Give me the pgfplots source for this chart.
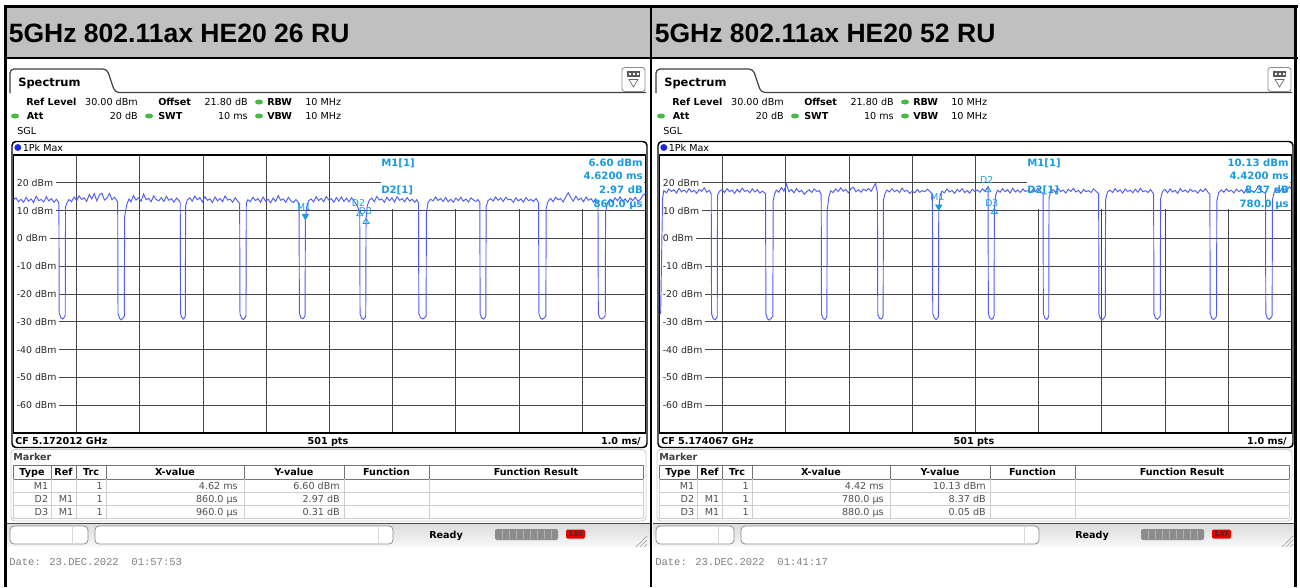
\documentclass[border=0pt]{standalone}
\usepackage{pgfplots}
\pgfplotsset{compat=1.18}
\usepackage{fontspec}
\setmainfont{DejaVu Sans}
\newfontfamily\titlefont{Liberation Sans}
\newfontfamily\datefont{Liberation Mono}
\definecolor{hdrgray}{RGB}{192,192,192}
\definecolor{trc}{RGB}{80,92,250}
\definecolor{mk}{RGB}{25,155,225}
\definecolor{grn}{RGB}{70,185,70}
\definecolor{gridc}{RGB}{70,70,70}
\definecolor{tabl}{RGB}{205,205,205}
\definecolor{txg}{RGB}{80,80,80}
\definecolor{dotblue}{RGB}{30,40,225}

\newcommand{\fs}{\fontsize{7.2pt}{8.6pt}\selectfont}
\newcommand{\fsb}{\fontsize{7.2pt}{8.6pt}\selectfont\bfseries}
\newcommand{\fmk}{\fontsize{7.6pt}{9pt}\selectfont\bfseries}
\newcommand{\fml}{\fontsize{7pt}{8pt}\selectfont}

\tikzset{
  t/.style={anchor=base west, inner sep=0pt, font=\fs},
  te/.style={anchor=base east, inner sep=0pt, font=\fs},
  tb/.style={anchor=base west, inner sep=0pt, font=\fsb},
  tr/.style={anchor=base east, inner sep=0pt, font=\fs, text=txg},
  tc/.style={anchor=base, inner sep=0pt, font=\fsb},
  mi/.style={inner sep=0pt, font=\fmk, text=mk},
}
\newcommand{\gdot}[2]{\fill[grn] (#1,#2) ellipse [x radius=3pt, y radius=1.9pt];}

% ---------- panel frame: #1 title, #2 CF, #3 date
\newcommand{\panel}[3]{%
  \node[anchor=base west, inner sep=0pt, font=\titlefont\bfseries\fontsize{19.9pt}{21pt}\selectfont] at (8.5,42.7) {#1};
  \draw[black!75, line width=0.9pt, rounded corners=3pt] (10,93) -- (10,69) -- (107,69) -- (115,92.5) -- (646,92.5);
  \node[anchor=base west, inner sep=0pt, font=\fontsize{8.6pt}{10pt}\selectfont\bfseries] at (18,86.5) {Spectrum};
  \draw[black!45, fill=white, rounded corners=2pt, line width=0.6pt] (622,67.5) rectangle (645,91.5);
  \fill[black!65] (627,71) rectangle (640,76.5);
  \fill[white] (628.5,72.5) rectangle (630.5,75);
  \fill[white] (632.5,72.5) rectangle (634.5,75);
  \fill[white] (636.5,72.5) rectangle (638.5,75);
  \draw[black!60, line width=0.5pt] (629,79.5) -- (638,79.5) -- (633.5,87) -- cycle;
  % parameter rows
  \node[tb] at (26,105.5) {Ref Level};
  \node[te] at (138,105.5) {30.00 dBm};
  \node[tb] at (158,105.5) {Offset};
  \node[te] at (248,105.5) {21.80 dB};
  \gdot{259}{102}
  \node[tb] at (267,105.5) {RBW};
  \node[t] at (305,105.5) {10 MHz};
  \gdot{15}{116}
  \node[tb] at (26.5,119.5) {Att};
  \node[te] at (138,119.5) {20 dB};
  \gdot{149}{116}
  \node[tb] at (158,119.5) {SWT};
  \node[te] at (248,119.5) {10 ms};
  \gdot{259}{116}
  \node[tb] at (267,119.5) {VBW};
  \node[t] at (305,119.5) {10 MHz};
  \node[t] at (17,134) {SGL};
  % plot frame
  \draw[black, line width=1.1pt, rounded corners=3pt] (12,141.5) rectangle (647,447.5);
  \fill[dotblue] (17.8,147.5) circle (2.6pt);
  \node[t] at (22.5,151) {1Pk Max};
  \node[tb] at (15,444) {CF #2};
  \node[tc] at (328,444) {501 pts};
  \node[anchor=base east, inner sep=0pt, font=\fsb] at (641,444) {1.0 ms/};
  % status bar
  \shade[top color=black!14, bottom color=black!3] (7,524) rectangle (650,546);
  \draw[black!70, line width=1.1pt] (7,523.5) -- (650,523.5);
  \draw[black!45, fill=white, rounded corners=3pt, line width=0.6pt] (10,526) rectangle (88,544);
  \draw[black!15] (72,527) -- (72,543);
  \draw[black!45, fill=white, rounded corners=3pt, line width=0.6pt] (95,526) rectangle (393,544);
  \draw[black!15] (378,527) -- (378,543);
  \node[tb] at (429,538) {Ready};
  \fill[black!45, rounded corners=1.5pt] (495,529) rectangle (558,540);
  \foreach \xx in {502,509,516,523,530,537,544,551} {\draw[black!30, line width=0.4pt] (\xx,530) -- (\xx,539);}
  \fill[red!90!black, rounded corners=1pt] (566,529.5) rectangle (585,538.5);
  \node[inner sep=0pt, font=\fontsize{5.5pt}{6pt}\selectfont\bfseries\itshape, text=black!80] at (575.5,534) {LXI};
  \draw[black!40, line width=0.5pt] (636,547) -- (647,536) (640,547) -- (647,540) (644,547) -- (647,544);
  % date
  \node[anchor=base west, inner sep=0pt, font=\datefont\fontsize{7.9pt}{9pt}\selectfont, text=black!50] at (9,565.5) {Date: 23.DEC.2022~~#3};
}

% ---------- marker table
\newcommand{\mtable}[6]{%
  \draw[tabl, rounded corners=3pt, line width=0.7pt] (11,449.5) rectangle (646,521);
  \node[tb, text=black!75] at (13,460.5) {Marker};
  \fill[white] (13,465) rectangle (643,518);
  \draw[black!55, line width=0.6pt] (13,465) -- (643,465) (13,479) -- (643,479);
  \draw[tabl, line width=0.6pt] (13,492) -- (643,492) (13,505) -- (643,505) (13,518) -- (643,518);
  \foreach \xx in {13,51,76,106,244,344,429,643} {\draw[black!55, line width=0.6pt] (\xx,465) -- (\xx,479);
     \draw[tabl, line width=0.6pt] (\xx,479) -- (\xx,518);}
  \node[tc] at (32,475.6) {Type};
  \node[tc] at (63.5,475.6) {Ref};
  \node[tc] at (91,475.6) {Trc};
  \node[tc] at (175,475.6) {X-value};
  \node[tc] at (294,475.6) {Y-value};
  \node[tc] at (386.5,475.6) {Function};
  \node[tc] at (536,475.6) {Function Result};
  \node[tr] at (48.5,489.5) {M1};
  \node[tr] at (103,489.5) {1};
  \node[tr] at (238,489.5) {#1};
  \node[tr] at (340,489.5) {#2};
  \node[tr] at (48.5,502.5) {D2};
  \node[tr] at (73.5,502.5) {M1};
  \node[tr] at (103,502.5) {1};
  \node[tr] at (238,502.5) {#3};
  \node[tr] at (340,502.5) {#4};
  \node[tr] at (48.5,515.5) {D3};
  \node[tr] at (73.5,515.5) {M1};
  \node[tr] at (103,515.5) {1};
  \node[tr] at (238,515.5) {#5};
  \node[tr] at (340,515.5) {#6};
}

% ---------- marker info
\newcommand{\minfo}[4]{%
  \node[mi, anchor=base west] at (381,166.4) {M1[1]};
  \node[mi, anchor=base east] at (643,166.4) {#1};
  \node[mi, anchor=base east] at (643,179.7) {#2};
  \node[mi, anchor=base west] at (381,193.7) {D2[1]};
  \node[mi, anchor=base east] at (643,193.7) {#3};
  \node[mi, anchor=base east] at (643,207) {#4};
}

\newcommand{\ylabs}{\pgfplotsinvokeforeach{20,10,0,-10,-20,-30,-40,-50,-60}{%
  \node[anchor=west, xshift=0.5pt, fill=white, inner xsep=1.9pt, inner ysep=0.5pt, font=\fml, text=black!85] at (axis cs:0,##1) {##1 dBm};}}

\pgfplotsset{sa/.style={
  scale only axis, width=474pt, height=208.5pt, anchor=south west,
  xmin=0, xmax=10, ymin=-70, ymax=30,
  xtick={0,1,...,10}, ytick={-70,-60,...,30},
  xticklabels={}, yticklabels={}, major tick length=0pt,
  grid=major, grid style={gridc, line width=0.75pt},
  axis line style={black, line width=0.8pt},
}}

\begin{document}
\begin{tikzpicture}
\begin{scope}[x=0.75pt, y=-0.75pt]
  \path[use as bounding box] (0,0) rectangle (1300,587);
  \fill[white] (0,0) rectangle (1300,587);
  \fill[hdrgray] (5,7) rectangle (1296,58);
  \begin{scope}
    \panel{5GHz 802.11ax HE20 26 RU}{5.172012 GHz}{01:57:53}
    \mtable{4.62 ms}{6.60 dBm}{860.0 µs}{2.97 dB}{960.0 µs}{0.31 dB}
  \end{scope}
  \begin{scope}[shift={(646,0)}]
    \panel{5GHz 802.11ax HE20 52 RU}{5.174067 GHz}{01:41:17}
    \mtable{4.42 ms}{10.13 dBm}{780.0 µs}{8.37 dB}{880.0 µs}{0.05 dB}
  \end{scope}
  \draw[black, line width=1.9pt] (4,6.3) -- (1298,6.3);
  \draw[black, line width=1.7pt] (4,58) -- (1298,58);
  \draw[black, line width=2pt] (5.3,5) -- (5.3,587);
  \draw[black, line width=1.5pt] (651,5) -- (651,587);
  \draw[black, line width=2.2pt] (1295.5,5) -- (1295.5,587);
\end{scope}

% ---------------- left spectrum
\begin{axis}[sa, at={(10.05pt,-324.75pt)}]
\fill[white] (axis cs:5.82,10.7) rectangle (axis cs:9.98,29.8);
\ylabs
\addplot[trc, line width=0.7pt] coordinates {
(0,13.8) (0.04,14.6) (0.08,13.2) (0.12,14.1) (0.16,13.0) (0.2,14.8) (0.24,13.4) (0.28,14.2) (0.32,12.9) (0.36,15.2) (0.4,13.6) (0.44,14.0) (0.48,13.1) (0.52,15.0) (0.56,13.5) (0.6,14.3) (0.64,13.0) (0.68,14.1) (0.72,12.8)
(0.725,-26.8) (0.75,-28.6) (0.78,-29.0) (0.81,-28.2) (0.82,-27.5) (0.825,11.4) (0.85,12.8) (0.88,14.0) (0.92,13.2) (0.96,14.9) (1.0,13.6) (1.04,15.3) (1.08,14.0) (1.12,14.6) (1.16,13.3) (1.2,15.8) (1.24,14.2) (1.28,16.1) (1.32,13.5) (1.36,15.6) (1.40,16.3) (1.44,13.8) (1.48,14.5) (1.52,16.2) (1.56,13.9) (1.60,14.8) (1.65,13.2)
(1.655,-27.0) (1.68,-28.8) (1.71,-29.3) (1.74,-28.4) (1.755,-28.0) (1.76,7.8) (1.78,10.5) (1.80,12.6) (1.83,14.2) (1.86,13.1) (1.90,15.4) (1.94,13.8) (1.98,14.6) (2.02,13.4) (2.06,16.0) (2.10,13.9) (2.14,14.4) (2.18,13.2) (2.22,15.3) (2.26,14.0) (2.30,13.5) (2.34,14.7) (2.38,13.3) (2.42,15.1) (2.46,13.7) (2.50,14.3) (2.54,13.0) (2.58,14.5) (2.62,13.6) (2.64,12.9)
(2.645,-26.9) (2.66,-28.3) (2.69,-29.0) (2.71,-28.5) (2.72,-27.8) (2.725,11.7) (2.75,13.8) (2.79,14.6) (2.83,13.4) (2.87,15.2) (2.91,13.9) (2.95,14.7) (2.99,13.1) (3.03,15.0) (3.07,13.7) (3.11,14.2) (3.15,12.9) (3.19,14.9) (3.23,13.5) (3.27,14.4) (3.31,13.2) (3.35,15.3) (3.39,13.8) (3.43,14.1) (3.47,13.0) (3.51,14.6) (3.55,13.4) (3.58,12.7)
(3.585,-27.1) (3.61,-28.7) (3.64,-29.2) (3.67,-28.3) (3.68,-27.6) (3.685,12.8) (3.71,13.9) (3.75,13.2) (3.79,14.8) (3.83,13.6) (3.87,14.3) (3.91,13.0) (3.95,14.9) (3.99,13.4) (4.03,14.1) (4.07,12.8) (4.11,14.5) (4.15,13.3) (4.19,15.4) (4.23,13.7) (4.27,14.2) (4.31,13.0) (4.35,14.8) (4.39,13.5) (4.43,12.9) (4.47,14.0) (4.52,12.6)
(4.525,-27.0) (4.55,-28.6) (4.58,-28.9) (4.61,-28.1) (4.615,-27.5) (4.62,6.6) (4.64,11.2) (4.67,13.5) (4.71,14.2) (4.75,13.1) (4.79,15.0) (4.83,13.6) (4.87,14.4) (4.91,13.2) (4.95,15.1) (4.99,13.8) (5.03,14.3) (5.07,13.0) (5.11,14.7) (5.15,13.4) (5.19,14.9) (5.23,13.3) (5.27,14.5) (5.31,13.1) (5.35,14.6) (5.39,13.5) (5.43,12.2) (5.48,9.57)
(5.485,-27.2) (5.51,-28.7) (5.54,-29.1) (5.57,-28.3) (5.575,-27.6) (5.58,6.91) (5.60,11.8) (5.63,13.7) (5.67,14.5) (5.71,13.2) (5.75,15.1) (5.79,13.8) (5.83,14.2) (5.87,13.0) (5.91,14.8) (5.95,13.5) (5.99,14.6) (6.03,13.1) (6.07,15.0) (6.11,13.7) (6.15,14.3) (6.19,13.2) (6.23,14.7) (6.27,13.4) (6.31,14.1) (6.35,13.0) (6.38,13.9) (6.41,12.8)
(6.415,-27.0) (6.44,-28.5) (6.48,-29.0) (6.51,-28.4) (6.53,-27.9) (6.535,9.0) (6.56,12.9) (6.60,14.1) (6.64,13.5) (6.68,14.9) (6.72,13.6) (6.76,14.4) (6.80,13.3) (6.84,14.7) (6.88,13.2) (6.92,14.1) (6.96,13.0) (7.00,14.5) (7.04,13.6) (7.08,14.8) (7.12,13.4) (7.16,14.2) (7.20,13.1) (7.24,14.6) (7.28,13.8) (7.32,13.3) (7.35,14.0) (7.38,12.9)
(7.385,-27.1) (7.41,-28.6) (7.44,-29.0) (7.47,-28.2) (7.475,-27.7) (7.48,11.5) (7.51,13.6) (7.55,14.3) (7.59,13.4) (7.63,14.9) (7.67,13.7) (7.71,14.5) (7.75,13.3) (7.79,14.8) (7.83,13.9) (7.87,14.1) (7.91,13.0) (7.95,14.6) (7.99,13.5) (8.03,14.2) (8.07,13.1) (8.11,14.7) (8.15,13.6) (8.19,14.0) (8.23,13.3) (8.27,14.4) (8.31,12.8)
(8.315,-27.0) (8.34,-28.7) (8.37,-29.1) (8.41,-28.4) (8.425,-27.8) (8.43,10.8) (8.46,13.4) (8.50,14.4) (8.54,13.2) (8.58,14.8) (8.62,13.9) (8.66,14.3) (8.70,13.1) (8.74,15.0) (8.78,16.4) (8.82,14.6) (8.86,13.4) (8.90,15.2) (8.94,13.8) (8.98,14.5) (9.02,13.2) (9.06,14.9) (9.10,13.7) (9.14,14.3) (9.18,13.0) (9.21,14.2) (9.25,12.7)
(9.255,-27.1) (9.28,-28.6) (9.31,-29.0) (9.35,-28.3) (9.365,-27.7) (9.37,9.5) (9.40,12.8) (9.44,14.1) (9.48,13.0) (9.52,14.6) (9.56,13.5) (9.60,14.9) (9.64,13.3) (9.68,14.2) (9.72,13.0) (9.76,14.5) (9.80,13.6) (9.84,14.8) (9.88,13.4) (9.92,14.0) (9.96,15.6) (10,16.1)
};
\addplot[only marks, mk, mark=triangle*, mark size=2.8pt, mark options={rotate=180}] coordinates {(4.62,8.06)};
\addplot[only marks, mk, mark=triangle, mark size=2.6pt, mark options={line width=0.6pt}] coordinates {(5.48,8.78) (5.58,6.0)};
\node[mk, inner sep=0pt, font=\fml] at (axis cs:4.6,11.4) {M1};
\node[mk, inner sep=0pt, font=\fml] at (axis cs:5.46,12.73) {D2};
\node[mk, inner sep=0pt, font=\fml] at (axis cs:5.57,9.96) {D3};
\end{axis}

% ---------------- right spectrum
\begin{axis}[sa, at={(494.55pt,-324.75pt)}]
\fill[white] (axis cs:5.82,10.7) rectangle (axis cs:9.98,29.8);
\ylabs
\addplot[trc, line width=0.7pt] coordinates {
(0,-27.3) (0.02,-27.0) (0.05,14.5) (0.07,17.2) (0.11,16.4) (0.15,17.8) (0.19,16.9) (0.23,17.5) (0.27,16.3) (0.31,18.0) (0.35,16.8) (0.39,17.4) (0.43,16.5) (0.47,17.9) (0.51,16.7) (0.55,17.3) (0.59,16.2) (0.63,17.6) (0.67,16.9) (0.71,18.2) (0.75,16.6) (0.79,17.3) (0.82,16.0)
(0.825,-27.1) (0.85,-28.8) (0.88,-29.3) (0.91,-28.4) (0.915,-27.8) (0.92,15.6) (0.95,16.9) (0.99,17.6) (1.03,16.5) (1.07,17.9) (1.11,16.8) (1.15,17.4) (1.19,16.2) (1.23,17.7) (1.27,16.6) (1.31,18.1) (1.35,16.9) (1.39,17.3) (1.43,16.4) (1.47,17.8) (1.51,16.7) (1.55,17.5) (1.59,16.3) (1.63,17.0) (1.68,16.1)
(1.685,-27.0) (1.71,-28.9) (1.74,-29.4) (1.77,-28.7) (1.795,-28.0) (1.80,13.5) (1.82,15.8) (1.85,17.4) (1.89,16.6) (1.93,18.3) (1.97,17.0) (2.01,19.5) (2.05,16.8) (2.09,17.6) (2.13,16.4) (2.17,17.9) (2.21,16.7) (2.25,17.3) (2.29,15.9) (2.33,16.8) (2.37,17.5) (2.41,16.5) (2.45,17.8) (2.49,16.9) (2.53,17.2) (2.56,15.8)
(2.565,-27.2) (2.59,-28.8) (2.62,-29.2) (2.645,-28.3) (2.65,-27.7) (2.655,10.2) (2.68,14.8) (2.71,17.1) (2.75,16.5) (2.79,17.8) (2.83,16.9) (2.87,18.2) (2.91,17.0) (2.95,17.6) (2.99,16.4) (3.03,17.9) (3.07,18.4) (3.11,16.8) (3.15,17.5) (3.19,16.6) (3.23,17.7) (3.27,17.1) (3.31,18.0) (3.35,16.9) (3.39,18.6) (3.42,19.8) (3.45,16.3)
(3.455,-27.1) (3.48,-28.7) (3.51,-29.0) (3.535,-28.2) (3.54,-27.6) (3.545,13.8) (3.57,16.2) (3.60,17.4) (3.64,16.7) (3.68,17.9) (3.72,16.8) (3.76,17.4) (3.80,16.5) (3.84,18.1) (3.88,16.9) (3.92,17.3) (3.96,16.2) (4.00,17.0) (4.04,16.4) (4.08,17.6) (4.12,16.6) (4.16,17.2) (4.20,16.8) (4.24,17.7) (4.28,16.9) (4.32,15.9)
(4.325,-27.0) (4.35,-28.6) (4.38,-29.2) (4.41,-28.4) (4.415,-27.8) (4.42,10.13) (4.44,15.2) (4.47,17.0) (4.51,16.4) (4.55,17.8) (4.59,16.7) (4.63,17.3) (4.67,16.2) (4.71,17.6) (4.75,16.8) (4.79,17.9) (4.83,16.5) (4.87,17.2) (4.91,16.3) (4.95,17.7) (4.99,16.9) (5.03,17.4) (5.07,16.6) (5.11,17.8) (5.15,17.0) (5.20,18.5)
(5.205,-27.1) (5.23,-28.8) (5.26,-29.1) (5.29,-28.3) (5.295,-27.7) (5.30,10.18) (5.32,15.5) (5.35,17.3) (5.39,16.6) (5.43,17.9) (5.47,16.8) (5.51,17.5) (5.55,16.3) (5.59,18.0) (5.63,16.7) (5.67,17.4) (5.71,16.5) (5.75,17.8) (5.79,16.9) (5.83,17.2) (5.87,16.4) (5.91,17.6) (5.95,16.8) (5.99,18.1) (6.03,16.9) (6.07,16.0)
(6.075,-27.0) (6.10,-28.7) (6.13,-29.2) (6.155,-28.3) (6.16,-27.8) (6.165,14.5) (6.19,16.8) (6.23,17.5) (6.27,16.6) (6.31,17.9) (6.35,16.8) (6.39,17.4) (6.43,16.3) (6.47,17.7) (6.51,16.9) (6.55,18.0) (6.59,16.7) (6.63,17.3) (6.67,16.2) (6.71,17.6) (6.75,16.8) (6.79,17.2) (6.83,16.5) (6.87,17.8) (6.91,16.9) (6.95,16.1)
(6.955,-27.2) (6.98,-28.9) (7.01,-29.3) (7.045,-28.4) (7.055,-27.8) (7.06,13.9) (7.09,16.7) (7.13,17.4) (7.17,16.5) (7.21,17.9) (7.25,16.8) (7.29,17.5) (7.33,16.3) (7.37,17.8) (7.41,16.9) (7.45,17.3) (7.49,16.4) (7.53,17.7) (7.57,16.6) (7.61,18.0) (7.65,16.8) (7.69,17.2) (7.73,16.5) (7.77,17.6) (7.82,16.0)
(7.825,-27.1) (7.85,-28.7) (7.88,-29.1) (7.915,-28.3) (7.925,-27.7) (7.93,14.2) (7.96,16.9) (8.00,17.6) (8.04,16.4) (8.08,17.8) (8.12,16.7) (8.16,17.3) (8.20,16.2) (8.24,17.9) (8.28,16.8) (8.32,17.4) (8.36,16.5) (8.40,17.7) (8.44,16.9) (8.48,17.2) (8.52,16.3) (8.56,17.6) (8.60,16.8) (8.64,17.9) (8.68,16.6) (8.71,15.9)
(8.715,-27.0) (8.74,-28.8) (8.77,-29.2) (8.805,-28.4) (8.815,-27.8) (8.82,13.6) (8.85,16.5) (8.89,17.4) (8.93,16.6) (8.97,17.8) (9.01,16.9) (9.05,17.3) (9.09,16.4) (9.13,17.7) (9.17,16.8) (9.21,17.5) (9.25,16.3) (9.29,17.9) (9.33,16.7) (9.37,17.2) (9.41,16.5) (9.45,17.8) (9.49,18.9) (9.53,17.0) (9.59,16.2)
(9.595,-27.1) (9.62,-28.7) (9.65,-29.1) (9.685,-28.3) (9.695,-27.7) (9.70,14.0) (9.73,16.8) (9.77,17.5) (9.81,16.6) (9.85,17.9) (9.89,16.8) (9.93,17.4) (9.97,18.6) (10,17.8)
};
\addplot[only marks, mk, mark=triangle*, mark size=2.8pt, mark options={rotate=180}] coordinates {(4.42,11.4)};
\addplot[only marks, mk, mark=triangle, mark size=2.6pt, mark options={line width=0.6pt}] coordinates {(5.20,17.4) (5.30,9.6)};
\node[mk, inner sep=0pt, font=\fml] at (axis cs:4.40,14.9) {M1};
\node[mk, inner sep=0pt, font=\fml] at (axis cs:5.18,21.0) {D2};
\node[mk, inner sep=0pt, font=\fml] at (axis cs:5.26,12.73) {D3};
\end{axis}

% marker info texts on top
\begin{scope}[x=0.75pt, y=-0.75pt]
  \minfo{6.60 dBm}{4.6200 ms}{2.97 dB}{860.0 µs}
  \begin{scope}[shift={(646,0)}]
    \minfo{10.13 dBm}{4.4200 ms}{8.37 dB}{780.0 µs}
  \end{scope}
\end{scope}
\end{tikzpicture}
\end{document}
